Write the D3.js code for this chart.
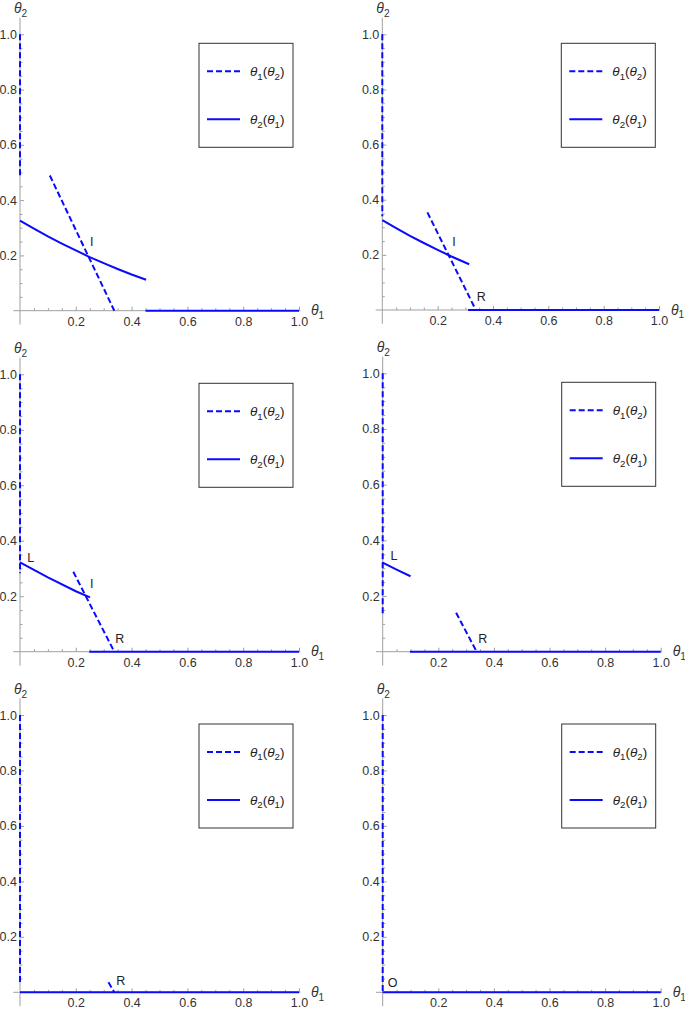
<!DOCTYPE html>
<html><head><meta charset="utf-8">
<script src="https://cdn.jsdelivr.net/npm/d3@7"></script>
<style>
body{margin:0;background:#fff}
svg{display:block}
text{font-family:"Liberation Sans",Arial,sans-serif}
</style>
</head><body>
<svg id="c" width="685" height="1009"></svg>
<script>
// ---------- data ----------
const xTicks = [0.2, 0.4, 0.6, 0.8, 1.0];
const yTicks = [0.2, 0.4, 0.6, 0.8, 1.0];
const minorTicks = [0.05,0.1,0.15,0.25,0.3,0.35,0.45,0.5,0.55,0.65,0.7,0.75,0.85,0.9,0.95];
const legendLabels = ["θ1(θ2)", "θ2(θ1)"];
const xAxisLabel = "θ1";
const yAxisLabel = "θ2";

// panel 1
const p1Dashed = [ [[0,1.0],[0,0.485]], [[0.107,0.489],[0.338,0]] ];
const p1Solid  = [ [[0,0.326],[0.05,0.297],[0.1,0.269],[0.15,0.243],[0.2,0.218],[0.25,0.194],[0.3,0.172],[0.35,0.151],[0.4,0.131],[0.452,0.112]],
                   [[0.45,0],[1.0,0]] ];
const p1Labels = [ {t:"I", x:0.257, y:0.25} ];
// panel 2
const p2Dashed = [ [[0,1.0],[0,0.34]], [[0.163,0.354],[0.338,0]] ];
const p2Solid  = [ [[0,0.326],[0.05,0.297],[0.1,0.269],[0.15,0.243],[0.2,0.218],[0.25,0.194],[0.314,0.166]],
                   [[0.31,0],[1.0,0]] ];
const p2Labels = [ {t:"I", x:0.259, y:0.248}, {t:"R", x:0.358, y:0.048} ];
// panel 3
const p3Dashed = [ [[0,1.0],[0,0.283]], [[0.191,0.288],[0.338,0]] ];
const p3Solid  = [ [[0,0.322],[0.1,0.268],[0.2,0.218],[0.251,0.196]],
                   [[0.248,0],[1.0,0]] ];
const p3Labels = [ {t:"L", x:0.038, y:0.339}, {t:"I", x:0.257, y:0.245}, {t:"R", x:0.358, y:0.046} ];
// panel 4
const p4Dashed = [ [[0,1.0],[0,0.132]], [[0.264,0.14],[0.338,0]] ];
const p4Solid  = [ [[0,0.32],[0.05,0.295],[0.1,0.271]],
                   [[0.098,0],[1.0,0]] ];
const p4Labels = [ {t:"L", x:0.041, y:0.345}, {t:"R", x:0.36, y:0.046} ];
// panel 5
const p5Dashed = [ [[0,1.0],[0,0.03]], [[0.317,0.036],[0.338,0]] ];
const p5Solid  = [ [[0,0],[1.0,0]] ];
const p5Labels = [ {t:"R", x:0.361, y:0.042} ];
// panel 6
const p6Dashed = [ [[0,1.0],[0,0.0]] ];
const p6Solid  = [ [[0,0],[1.0,0]] ];
const p6Labels = [ {t:"O", x:0.036, y:0.035} ];

const panelsData = [
  {dashed:p1Dashed, solid:p1Solid, labels:p1Labels},
  {dashed:p2Dashed, solid:p2Solid, labels:p2Labels},
  {dashed:p3Dashed, solid:p3Solid, labels:p3Labels},
  {dashed:p4Dashed, solid:p4Solid, labels:p4Labels},
  {dashed:p5Dashed, solid:p5Solid, labels:p5Labels},
  {dashed:p6Dashed, solid:p6Solid, labels:p6Labels}
];

// ---------- layout (pixels) ----------
const layout = [
  {x0:20,    x1:299,   y0:310.7, y1:34.3},
  {x0:382.3, x1:659,   y0:310,   y1:34.3},
  {x0:20,    x1:299,   y0:651.7, y1:374.3},
  {x0:382.7, x1:660.7, y0:651.7, y1:373.3},
  {x0:20,    x1:299,   y0:992.3, y1:715},
  {x0:382.7, x1:660.7, y0:992.3, y1:715}
];

const BLUE = "#0a0aff";
const AXIS = "#a0a0a0";
const TXT = "#333";
const FONT = '"Liberation Sans",Arial,sans-serif';

const svg = d3.select("#c");

function rich(textSel, str, size){
  const chars = Array.from(str);
  let sub = false;
  chars.forEach((ch,i)=>{
    const prev = chars[i-1];
    if (/[0-9]/.test(ch) && prev === "θ"){
      textSel.append("tspan").attr("font-size", size*0.72).attr("dy", size*0.28).text(ch);
      sub = true;
    } else {
      const ts = textSel.append("tspan").text(ch);
      if (sub){ ts.attr("dy", -size*0.28); sub = false; }
      if (ch === "θ") ts.attr("font-style","italic");
    }
  });
}

panelsData.forEach((pd, k) => {
  const L = layout[k];
  const x = d3.scaleLinear().domain([0,1]).range([L.x0, L.x1]);
  const y = d3.scaleLinear().domain([0,1]).range([L.y0, L.y1]);
  const g = svg.append("g");

  // axis lines
  g.append("line").attr("x1", x(-0.024)).attr("x2", x(1.005)).attr("y1", y(0)).attr("y2", y(0))
    .attr("stroke", AXIS).attr("stroke-width", 1);
  g.append("line").attr("x1", x(0)).attr("x2", x(0)).attr("y1", y(-0.05)).attr("y2", y(1.06))
    .attr("stroke", AXIS).attr("stroke-width", 1);

  // x axis (ticks inward)
  const xa = g.append("g").attr("transform", `translate(0,${y(0)})`)
    .call(d3.axisBottom(x).tickValues(xTicks).tickSize(-4).tickPadding(6).tickSizeOuter(0).tickFormat(d3.format(".1f")));
  xa.attr("font-size", 12.5).attr("font-family", FONT);
  xa.select(".domain").remove();
  xa.selectAll(".tick line").attr("stroke", AXIS);
  xa.selectAll(".tick text").attr("fill", TXT);
  const xm = g.append("g").attr("transform", `translate(0,${y(0)})`)
    .call(d3.axisBottom(x).tickValues(minorTicks).tickSize(-2.5).tickFormat(""));
  xm.select(".domain").remove();
  xm.selectAll(".tick line").attr("stroke", AXIS);

  const ya = g.append("g").attr("transform", `translate(${x(0)},0)`)
    .call(d3.axisLeft(y).tickValues(yTicks).tickSize(-4).tickPadding(3).tickSizeOuter(0).tickFormat(d3.format(".1f")));
  ya.attr("font-size", 12.5).attr("font-family", FONT);
  ya.select(".domain").remove();
  ya.selectAll(".tick line").attr("stroke", AXIS);
  ya.selectAll(".tick text").attr("fill", TXT);
  const ym = g.append("g").attr("transform", `translate(${x(0)},0)`)
    .call(d3.axisLeft(y).tickValues(minorTicks).tickSize(-2.5).tickFormat(""));
  ym.select(".domain").remove();
  ym.selectAll(".tick line").attr("stroke", AXIS);

  // axis labels
  const xl = g.append("text").attr("x", x(1) + 12).attr("y", y(0) + 4.5).attr("font-size", 14).attr("fill", TXT);
  rich(xl, xAxisLabel, 14);
  const yl = g.append("text").attr("x", x(0) - 6).attr("y", L.y1 - 21).attr("font-size", 14).attr("fill", TXT);
  rich(yl, yAxisLabel, 14);

  // curves
  const line = d3.line().x(d => x(d[0])).y(d => y(d[1]));
  pd.solid.forEach(seg => {
    g.append("path").attr("d", line(seg)).attr("fill","none").attr("stroke", BLUE).attr("stroke-width", 2);
  });
  pd.dashed.forEach(seg => {
    g.append("path").attr("d", line(seg)).attr("fill","none").attr("stroke", BLUE).attr("stroke-width", 2)
      .attr("stroke-dasharray", "6,3");
  });

  // point labels
  pd.labels.forEach(lb => {
    g.append("text").attr("x", x(lb.x)).attr("y", y(lb.y)).attr("text-anchor","middle")
      .attr("dominant-baseline","central").attr("font-size", 12.5).attr("fill", "#222").text(lb.t);
  });

  // legend
  const lx = L.x0 + 179, ly = L.y1 + 9;
  const lg = g.append("g").attr("transform", `translate(${lx},${ly})`);
  lg.append("rect").attr("x",0).attr("y",0).attr("width",94).attr("height",104)
    .attr("fill","#fff").attr("stroke","#333").attr("stroke-width",1);
  legendLabels.forEach((lab, i) => {
    const yy = i === 0 ? 28 : 76;
    lg.append("line").attr("x1", 8).attr("x2", 41).attr("y1", yy).attr("y2", yy)
      .attr("stroke", BLUE).attr("stroke-width", 2).attr("stroke-dasharray", i === 0 ? "6,3" : null);
    const t = lg.append("text").attr("x", 51).attr("y", yy + 4.5).attr("font-size", 13.5).attr("fill", "#222");
    rich(t, lab, 13.5);
  });
});
</script>
</body></html>
